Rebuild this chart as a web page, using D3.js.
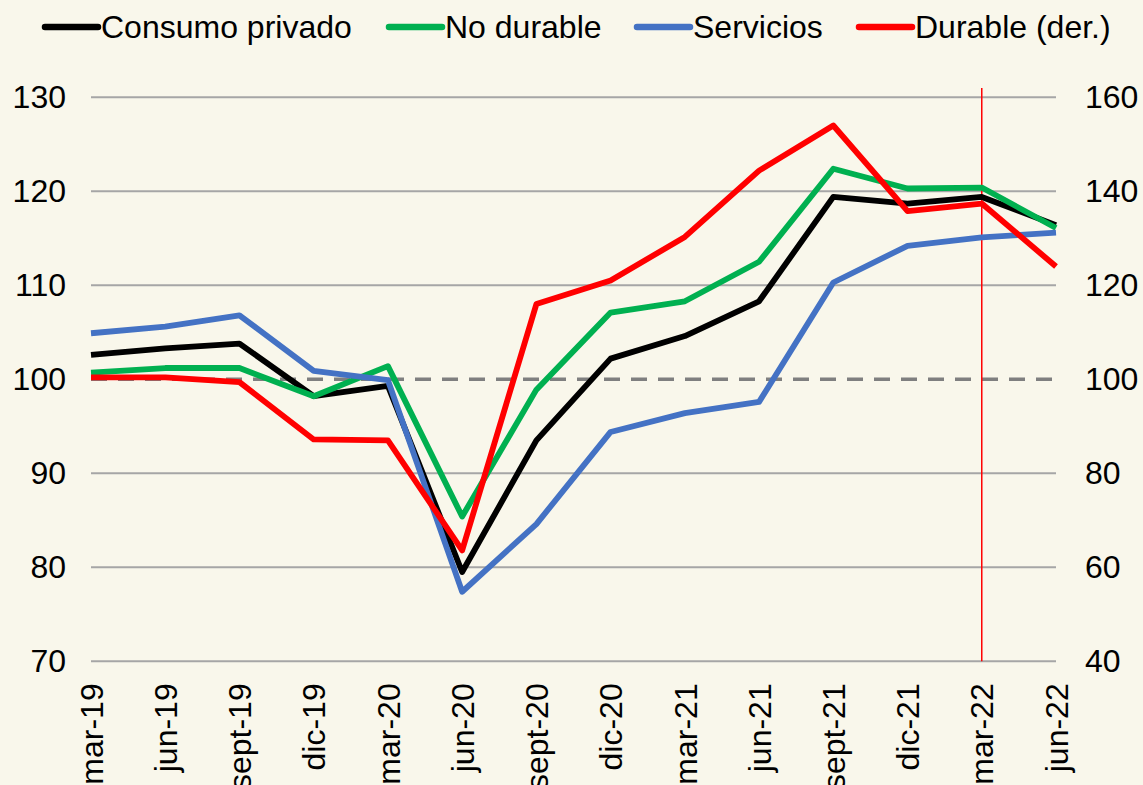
<!DOCTYPE html>
<html>
<head>
<meta charset="utf-8">
<script src="https://cdn.jsdelivr.net/npm/d3@7/dist/d3.min.js"></script>
<style>
  html, body { margin: 0; padding: 0; background: #f9f7eb; }
  svg { display: block; font-family: "Liberation Sans", Arial, sans-serif; }
</style>
</head>
<body>
<svg id="chart" width="1143" height="785"></svg>
<script>
const categories = ["mar-19","jun-19","sept-19","dic-19","mar-20","jun-20","sept-20","dic-20","mar-21","jun-21","sept-21","dic-21","mar-22","jun-22"];
const consumoPrivado = [102.6,103.3,103.8,98.2,99.3,79.5,93.5,102.2,104.6,108.3,119.4,118.7,119.4,116.4];
const noDurable      = [100.7,101.2,101.2,98.2,101.4,85.4,98.9,107.1,108.3,112.5,122.4,120.3,120.4,116.1];
const servicios      = [104.9,105.6,106.8,100.9,99.9,77.4,84.6,94.4,96.4,97.6,110.3,114.2,115.1,115.6];
const durableDer     = [100.4,100.4,99.4,87.2,87.0,63.6,116.0,121.0,130.3,144.4,154.0,135.8,137.4,124.0];
const leftTicks  = [70,80,90,100,110,120,130];
const rightTicks = [40,60,80,100,120,140,160];
const markerCategory = "mar-22";
const referenceLevel = 100;

const seriesList = [
  {name: "Consumo privado", values: consumoPrivado, color: "#000000", axis: "left"},
  {name: "No durable",      values: noDurable,      color: "#00b050", axis: "left"},
  {name: "Servicios",       values: servicios,      color: "#4472c4", axis: "left"},
  {name: "Durable (der.)",  values: durableDer,     color: "#ff0000", axis: "right"}
];

(function () {
const svg = d3.select("#chart");
const pLeft = 91, pRight = 1056, pTop = 97.3, pBottom = 661.3;
const FS = 32;

const x = d3.scalePoint().domain(categories).range([pLeft, pRight]);
const yL = d3.scaleLinear().domain([70,130]).range([pBottom, pTop]);
const yR = d3.scaleLinear().domain([40,160]).range([pBottom, pTop]);

// gridlines
svg.append("g").selectAll("line")
  .data(leftTicks.filter(t => t !== referenceLevel))
  .join("line")
  .attr("x1", pLeft).attr("x2", pRight)
  .attr("y1", d => yL(d)).attr("y2", d => yL(d))
  .attr("stroke", "#a6a6a6").attr("stroke-width", 2);

// dashed reference line
svg.append("line")
  .attr("x1", pLeft).attr("x2", pRight)
  .attr("y1", yL(referenceLevel)).attr("y2", yL(referenceLevel))
  .attr("stroke", "#7f7f7f").attr("stroke-width", 3.5)
  .attr("stroke-dasharray", "16,11");

// left axis
const axL = svg.append("g").attr("transform", `translate(${pLeft},0)`)
  .call(d3.axisLeft(yL).tickValues(leftTicks).tickSize(0).tickPadding(25));
axL.select(".domain").remove();
axL.selectAll("text").attr("font-size", FS).attr("fill", "#000")
  .attr("font-family", "'Liberation Sans', Arial, sans-serif");

// right axis
const axR = svg.append("g").attr("transform", `translate(${pRight},0)`)
  .call(d3.axisRight(yR).tickValues(rightTicks).tickSize(0).tickPadding(29));
axR.select(".domain").remove();
axR.selectAll("text").attr("font-size", FS).attr("fill", "#000")
  .attr("font-family", "'Liberation Sans', Arial, sans-serif");

// bottom axis
const axB = svg.append("g").attr("transform", `translate(0,${pBottom})`)
  .call(d3.axisBottom(x).tickSize(0).tickPadding(0));
axB.select(".domain").remove();
axB.selectAll("text")
  .attr("font-size", FS).attr("fill", "#000")
  .attr("font-family", "'Liberation Sans', Arial, sans-serif")
  .attr("transform", "rotate(-90)")
  .attr("text-anchor", "end")
  .attr("x", -22).attr("y", 0).attr("dy", "0.35em");

// marker vertical line
svg.append("line")
  .attr("x1", x(markerCategory)).attr("x2", x(markerCategory))
  .attr("y1", 88).attr("y2", pBottom)
  .attr("stroke", "#ff0000").attr("stroke-width", 1.5);

// series lines
seriesList.forEach(s => {
  const ys = s.axis === "left" ? yL : yR;
  const line = d3.line().x((d,i) => x(categories[i])).y(d => ys(d));
  svg.append("path")
    .datum(s.values)
    .attr("d", line)
    .attr("fill", "none")
    .attr("stroke", s.color)
    .attr("stroke-width", 5.8)
    .attr("stroke-linejoin", "round");
});

// legend
const legendX = [43, 387, 635, 857];
const lg = svg.append("g");
seriesList.forEach((s, i) => {
  const g = lg.append("g").attr("transform", `translate(${legendX[i]},27)`);
  g.append("line").attr("x1", 2).attr("x2", 55).attr("y1", 0).attr("y2", 0)
    .attr("stroke", s.color).attr("stroke-width", 6.5).attr("stroke-linecap", "round");
  g.append("text").attr("x", 58).attr("y", 11)
    .attr("font-size", FS).attr("fill", "#000").text(s.name);
});
})();
</script>
</body>
</html>
